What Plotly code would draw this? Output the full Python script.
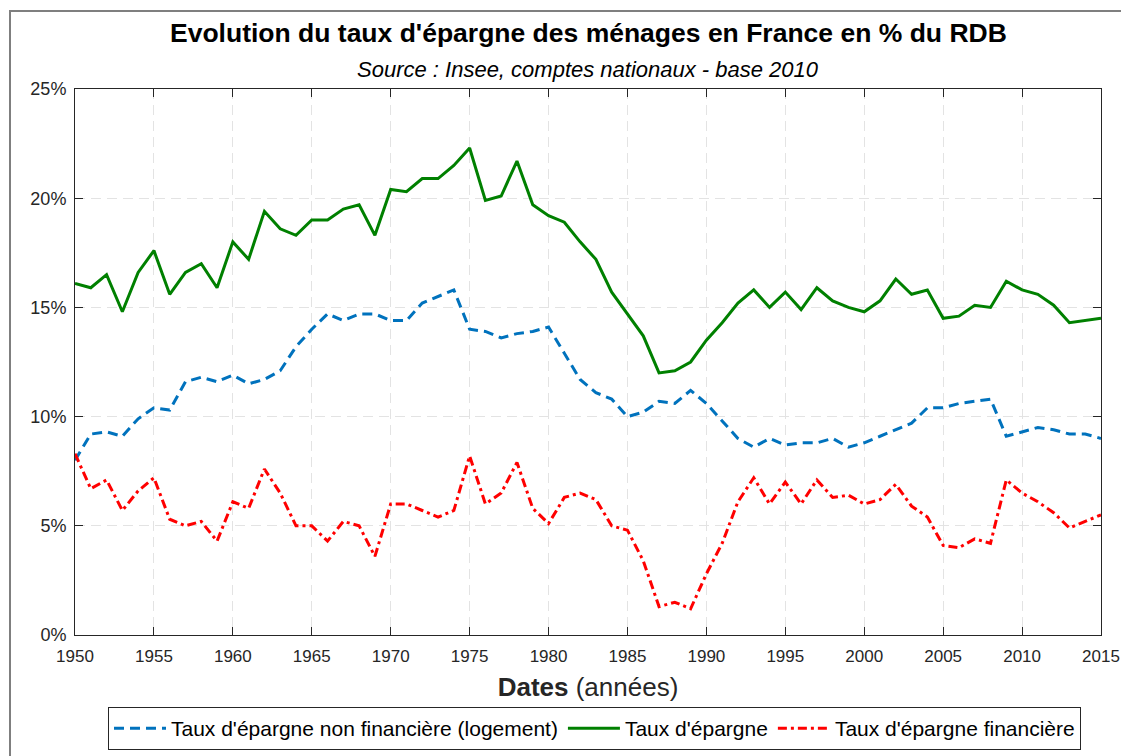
import plotly.graph_objects as go

years = list(range(1950, 2016))

taux_epargne = [16.1, 15.9, 16.5, 14.8, 16.6, 17.6, 15.6, 16.6, 17.0, 15.9,
                18.0, 17.2, 19.4, 18.6, 18.3, 19.0, 19.0, 19.5, 19.7, 18.3,
                20.4, 20.3, 20.9, 20.9, 21.5, 22.3, 19.9, 20.1, 21.7, 19.7,
                19.2, 18.9, 18.0, 17.2, 15.7, 14.7, 13.7, 12.0, 12.1, 12.5,
                13.5, 14.3, 15.2, 15.8, 15.0, 15.7, 14.9, 15.9, 15.3, 15.0,
                14.8, 15.3, 16.3, 15.6, 15.8, 14.5, 14.6, 15.1, 15.0, 16.2,
                15.8, 15.6, 15.1, 14.3, 14.4, 14.5]

taux_non_fin = [8.0, 9.2, 9.3, 9.1, 9.9, 10.4, 10.3, 11.6, 11.8, 11.6,
                11.9, 11.5, 11.7, 12.1, 13.2, 14.0, 14.7, 14.4, 14.7, 14.7,
                14.4, 14.4, 15.2, 15.5, 15.8, 14.0, 13.9, 13.6, 13.8, 13.9,
                14.1, 12.9, 11.7, 11.1, 10.8, 10.0, 10.2, 10.7, 10.6, 11.2,
                10.6, 9.8, 9.0, 8.6, 9.0, 8.7, 8.8, 8.8, 9.0, 8.6,
                8.8, 9.1, 9.4, 9.7, 10.4, 10.4, 10.6, 10.7, 10.8, 9.1,
                9.3, 9.5, 9.4, 9.2, 9.2, 9.0]

taux_fin = [8.3, 6.7, 7.1, 5.7, 6.6, 7.2, 5.3, 5.0, 5.2, 4.3,
            6.1, 5.8, 7.6, 6.5, 5.0, 5.0, 4.3, 5.2, 5.0, 3.6,
            6.0, 6.0, 5.7, 5.4, 5.7, 8.2, 6.0, 6.5, 7.9, 5.8,
            5.1, 6.3, 6.5, 6.2, 5.0, 4.8, 3.4, 1.3, 1.5, 1.2,
            2.8, 4.2, 6.1, 7.2, 6.0, 7.0, 6.0, 7.1, 6.3, 6.4,
            6.0, 6.2, 6.9, 5.9, 5.4, 4.1, 4.0, 4.4, 4.2, 7.1,
            6.5, 6.1, 5.6, 4.9, 5.2, 5.5]

x_ticks = list(range(1950, 2016, 5))
y_ticks = [0, 5, 10, 15, 20, 25]
y_ticklabels = [f"{v}%" for v in y_ticks]

FONT = "Liberation Sans, Arial, sans-serif"
AX = "#262626"

fig = go.Figure()
fig.add_trace(go.Scatter(x=years, y=taux_non_fin, mode="lines",
                         name="Taux d'épargne non financière (logement)",
                         line=dict(color="#0072BD", width=3, dash="10px,6px")))
fig.add_trace(go.Scatter(x=years, y=taux_epargne, mode="lines",
                         name="Taux d'épargne",
                         line=dict(color="#008000", width=3)))
fig.add_trace(go.Scatter(x=years, y=taux_fin, mode="lines",
                         name="Taux d'épargne financière",
                         line=dict(color="#FF0000", width=3, dash="9px,4px,3px,4px")))

fig.update_layout(
    width=1121, height=756,
    margin=dict(l=75, r=20, t=89, b=121, autoexpand=False),
    paper_bgcolor="white", plot_bgcolor="white",
    font=dict(family=FONT, size=17, color=AX),
    showlegend=True,
    legend=dict(orientation="h", xref="container", yref="container",
                x=594.5 / 1121, xanchor="center", y=1 - 707 / 756, yanchor="top",
                bordercolor=AX, borderwidth=1, bgcolor="white",
                font=dict(family=FONT, size=21, color="black"),
                itemwidth=52, tracegroupgap=0),
    xaxis=dict(range=[1950, 2015], tickvals=x_ticks, ticks="inside", ticklen=8,
               tickcolor=AX, showline=True, linecolor=AX, linewidth=1, mirror="ticks",
               showgrid=True, gridcolor="#e3e3e3", griddash="10px,6px", gridwidth=1,
               zeroline=False, tickfont=dict(size=17, color=AX), ticklabelstandoff=6,
               automargin=False,
               title=dict(text="<b>Dates</b> (années)", font=dict(size=26, color=AX), standoff=12)),
    yaxis=dict(range=[0, 25], tickvals=y_ticks, ticktext=y_ticklabels, ticks="inside", ticklen=8,
               tickcolor=AX, showline=True, linecolor=AX, linewidth=1, mirror="ticks",
               showgrid=True, gridcolor="#e3e3e3", griddash="10px,6px", gridwidth=1,
               zeroline=False, tickfont=dict(size=18, color=AX), ticklabelstandoff=4,
               automargin=False),
    annotations=[
        dict(text="<b>Evolution du taux d'épargne des ménages en France en % du RDB</b>",
             x=0.5, xref="paper", y=(635 - 33) / 546, yref="paper", yanchor="middle",
             showarrow=False, font=dict(family=FONT, size=26.5, color="black")),
        dict(text="<i>Source : Insee, comptes nationaux - base 2010</i>",
             x=0.5, xref="paper", y=(635 - 70) / 546, yref="paper", yanchor="middle",
             showarrow=False, font=dict(family=FONT, size=22, color="black")),
    ],
    shapes=[
        dict(type="rect", xref="paper", yref="paper",
             x0=(10 - 75) / 1026, x1=(1130 - 75) / 1026,
             y0=(635 - 780) / 546, y1=(635 - 11) / 546,
             line=dict(color="#7f7f7f", width=2), layer="below"),
    ],
)

fig.write_html("out.html", config={"displayModeBar": False},
               post_script="document.body.style.margin='0';document.body.style.overflow='hidden';")
